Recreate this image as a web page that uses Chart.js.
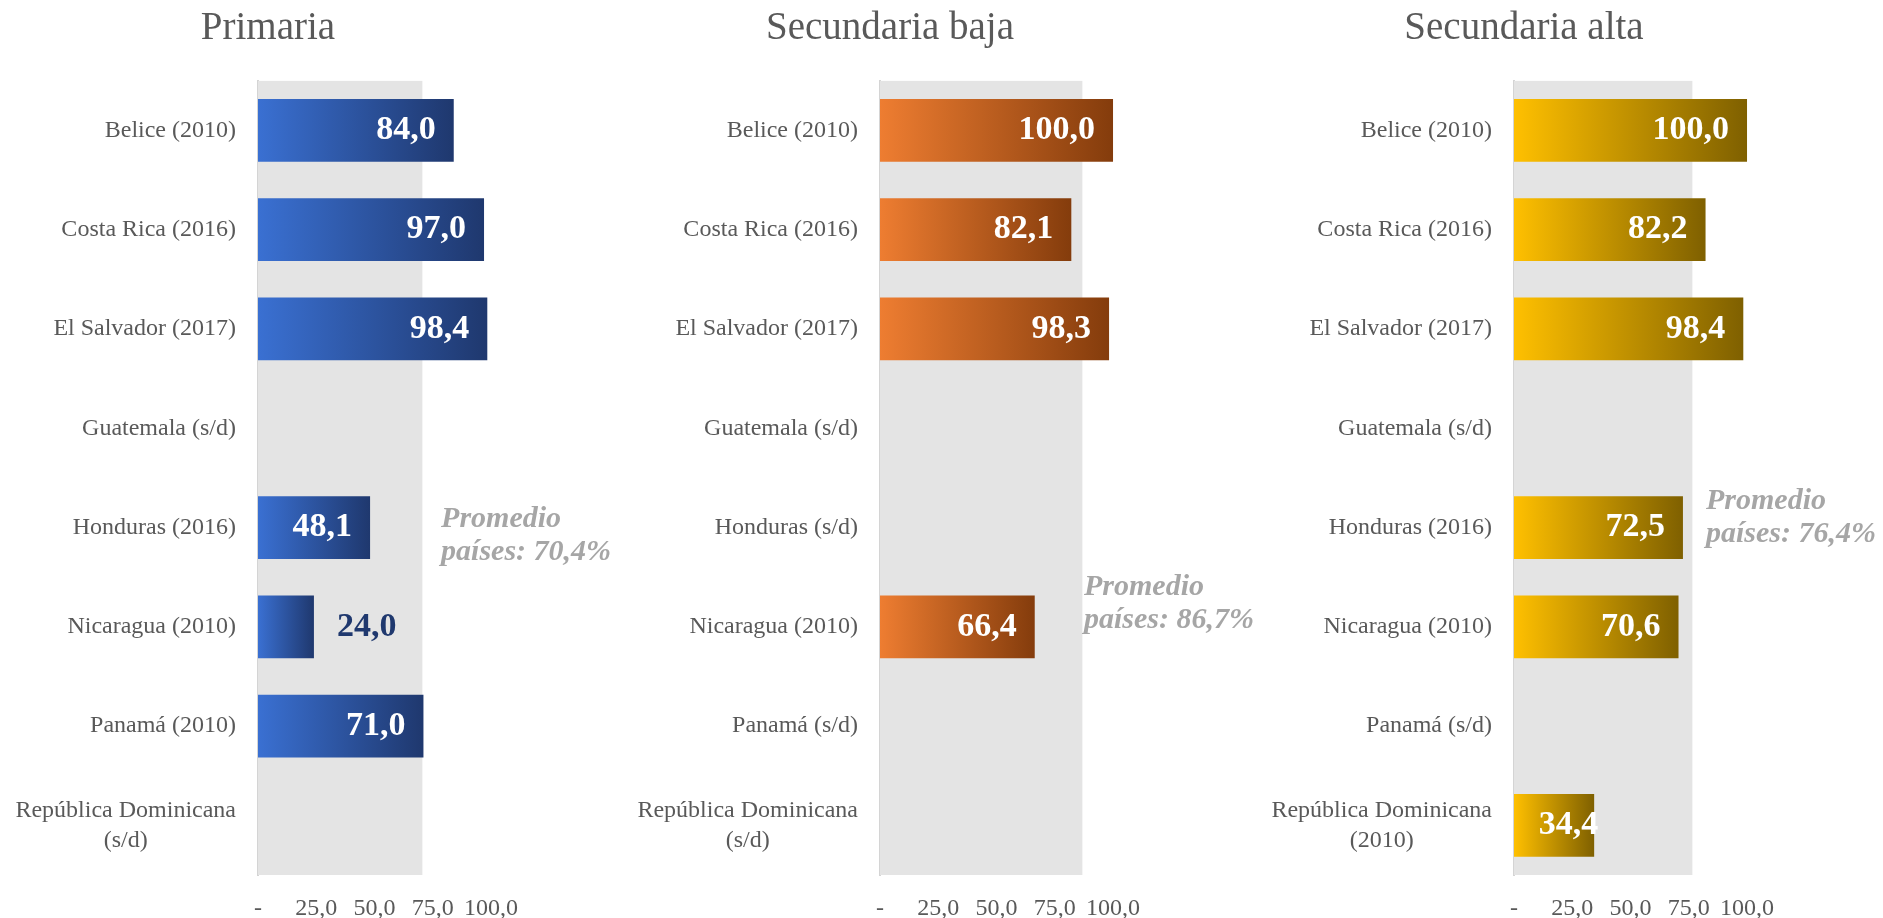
<!DOCTYPE html>
<html>
<head>
<meta charset="utf-8">
<script src="https://cdn.jsdelivr.net/npm/chart.js@4.4.1/dist/chart.umd.min.js"></script>
<style>
  html, body { margin: 0; padding: 0; background: #fff; overflow: hidden; }
  body { width: 1883px; height: 918px; position: relative; }
  .panel { position: absolute; top: 0; width: 640px; height: 918px; }
</style>
</head>
<body>
<div class="panel" style="left:0px"><canvas id="c1" width="640" height="918"></canvas></div>
<div class="panel" style="left:622px"><canvas id="c2" width="640" height="918"></canvas></div>
<div class="panel" style="left:1256px"><canvas id="c3" width="640" height="918"></canvas></div>
<script>
// datos
const labelsPrimaria = ['Belice (2010)', 'Costa Rica (2016)', 'El Salvador (2017)', 'Guatemala (s/d)',
  'Honduras (2016)', 'Nicaragua (2010)', 'Panamá (2010)', 'República Dominicana\n(s/d)'];
const valuesPrimaria = [84.0, 97.0, 98.4, null, 48.1, 24.0, 71.0, null];
const avgPrimaria = 70.4;

const labelsSecBaja = ['Belice (2010)', 'Costa Rica (2016)', 'El Salvador (2017)', 'Guatemala (s/d)',
  'Honduras (s/d)', 'Nicaragua (2010)', 'Panamá (s/d)', 'República Dominicana\n(s/d)'];
const valuesSecBaja = [100.0, 82.1, 98.3, null, null, 66.4, null, null];
const avgSecBaja = 86.7;

const labelsSecAlta = ['Belice (2010)', 'Costa Rica (2016)', 'El Salvador (2017)', 'Guatemala (s/d)',
  'Honduras (2016)', 'Nicaragua (2010)', 'Panamá (s/d)', 'República Dominicana\n(2010)'];
const valuesSecAlta = [100.0, 82.2, 98.4, null, 72.5, 70.6, null, 34.4];
const avgSecAlta = 76.4;

const tickValues = [0, 25, 50, 75, 100];

const FONT = 'Liberation Serif';
const GREY = '#595959';

function fmt(v) {
  return v.toFixed(1).replace('.', ',');
}

function makePanel(id, title, labels, values, avg, colors, layout) {
  const grad = function(c) {
    const chart = c.chart;
    if (!chart.chartArea || c.raw == null) return colors[0];
    const xs = chart.scales.x;
    const g = chart.ctx.createLinearGradient(xs.getPixelForValue(0), 0, xs.getPixelForValue(c.raw), 0);
    g.addColorStop(0, colors[0]);
    g.addColorStop(1, colors[1]);
    return g;
  };

  const textPlugin = {
    id: 'panelText',
    afterDraw(chart) {
      const ctx = chart.ctx;
      const xs = chart.scales.x, ys = chart.scales.y;
      ctx.save();
      ctx.textBaseline = 'middle';

      // categorias
      ctx.font = '24px "' + FONT + '"';
      ctx.fillStyle = GREY;
      ctx.textAlign = 'center';
      labels.forEach(function(lab, i) {
        const lines = lab.split('\n');
        const wMax = Math.max.apply(null, lines.map(l => ctx.measureText(l).width));
        const cx = ys.right - 22 - wMax / 2;
        const y0 = ys.getPixelForValue(i) - (lines.length - 1) * 30 / 2;
        lines.forEach((l, k) => ctx.fillText(l, cx, y0 + k * 30));
      });

      // etiquetas de datos
      ctx.font = 'bold 34px "' + FONT + '"';
      const meta = chart.getDatasetMeta(0);
      meta.data.forEach(function(bar, i) {
        const v = values[i];
        if (v == null) return;
        const mode = layout.special[i] || 'inside';
        if (mode == 'outside') {
          ctx.textAlign = 'left';
          ctx.fillStyle = colors[1];
          ctx.fillText(fmt(v), bar.x + 23, bar.y);
        } else if (mode == 'overflow') {
          ctx.textAlign = 'right';
          ctx.fillStyle = '#fff';
          ctx.fillText(fmt(v), bar.x + 4, bar.y);
        } else {
          ctx.textAlign = 'right';
          ctx.fillStyle = '#fff';
          ctx.fillText(fmt(v), bar.x - 18, bar.y);
        }
      });

      // promedio
      ctx.font = 'italic bold 30px "' + FONT + '"';
      ctx.fillStyle = '#A6A6A6';
      ctx.textAlign = 'left';
      const xb = xs.getPixelForValue(avg) + layout.noteDx;
      ctx.fillText('Promedio', xb, layout.noteY);
      ctx.fillText('países: ' + fmt(avg) + '%', xb, layout.noteY + 33);
      ctx.restore();
    }
  };

  new Chart(document.getElementById(id), {
    type: 'bar',
    data: {
      labels: labels,
      datasets: [
        { data: values, yAxisID: 'y', backgroundColor: grad, borderWidth: 0, grouped: false,
          barPercentage: 0.632, categoryPercentage: 1 },
        { data: [avg], yAxisID: 'yBand', backgroundColor: '#E4E4E4', borderWidth: 0, grouped: false,
          barPercentage: 1, categoryPercentage: 1 }
      ]
    },
    options: {
      indexAxis: 'y',
      responsive: false,
      animation: false,
      layout: { padding: { left: 0, right: 104, top: 0, bottom: 0 } },
      plugins: {
        legend: { display: false },
        tooltip: { enabled: false },
        title: {
          display: true,
          text: title,
          color: GREY,
          font: { family: FONT, size: 39, weight: 'normal' },
          padding: { top: 5, bottom: 29 }
        }
      },
      scales: {
        x: {
          min: 0,
          max: 119.3,
          grid: { display: false, drawTicks: false },
          border: { display: false },
          afterBuildTicks: function(s) { s.ticks = tickValues.map(v => ({ value: v })); },
          afterFit: function(s) { s.height = 43; s.paddingLeft = 0; s.paddingRight = 0; },
          ticks: {
            padding: 19,
            color: GREY,
            autoSkip: false,
            maxRotation: 0,
            font: { family: FONT, size: 24 },
            callback: v => v === 0 ? '-' : fmt(v)
          }
        },
        y: {
          z: 1,
          grid: { display: false, drawTicks: false },
          border: { display: true, color: '#D4D4D4', width: 2 },
          ticks: { display: false },
          afterFit: function(s) { s.width = 258; }
        },
        yBand: { type: 'category', labels: ['band'], display: false, offset: true }
      }
    },
    plugins: [textPlugin]
  });
}

makePanel('c1', 'Primaria', labelsPrimaria, valuesPrimaria, avgPrimaria,
  ['#3A70D2', '#1F386E'], { noteDx: 19, noteY: 519, special: { 5: 'outside' } });
makePanel('c2', 'Secundaria baja', labelsSecBaja, valuesSecBaja, avgSecBaja,
  ['#EE7D31', '#843C0C'], { noteDx: 2, noteY: 587, special: {} });
makePanel('c3', 'Secundaria alta', labelsSecAlta, valuesSecAlta, avgSecAlta,
  ['#FFC000', '#7F6000'], { noteDx: 14, noteY: 501, special: { 7: 'overflow' } });
</script>
</body>
</html>
